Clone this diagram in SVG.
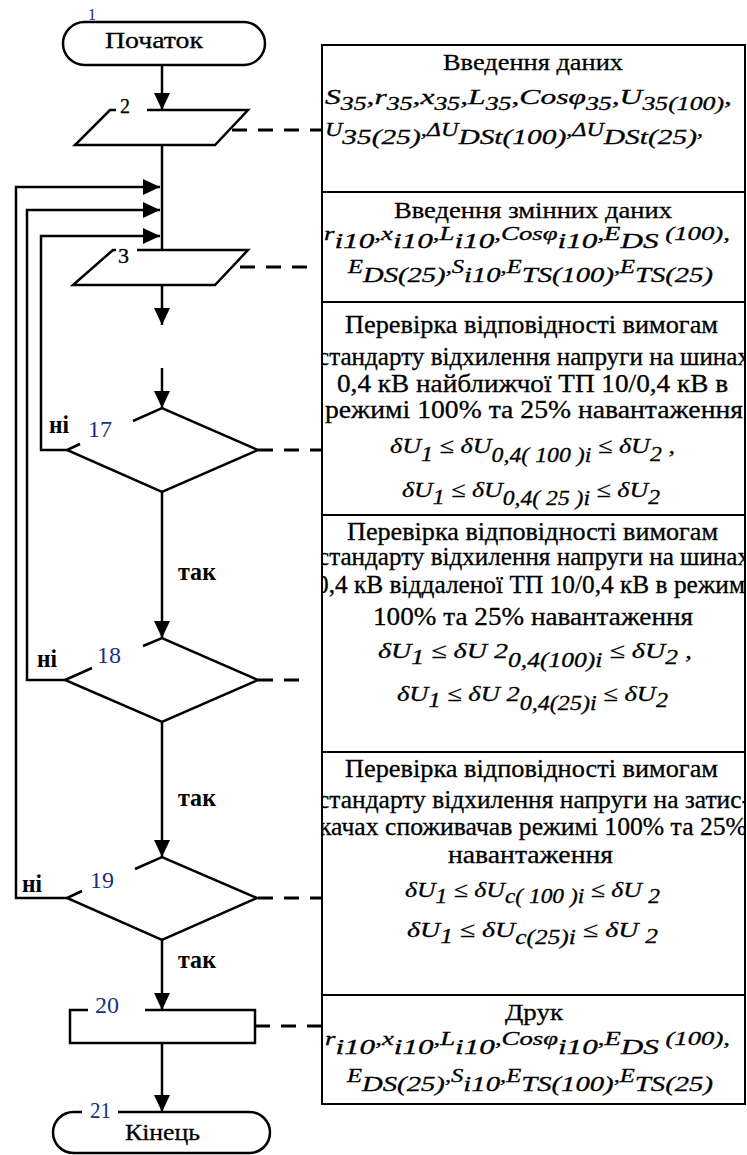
<svg xmlns="http://www.w3.org/2000/svg" width="747" height="1155" viewBox="0 0 747 1155">
<defs>
<style>
.sh{fill:none;stroke:#000;stroke-width:2.5;stroke-linejoin:miter}
.ln{fill:none;stroke:#000;stroke-width:2.5}
.bx{fill:#fff;stroke:#000;stroke-width:2}
.ds{fill:none;stroke:#000;stroke-width:3;stroke-dasharray:15 11}
.t{font-family:"Liberation Serif","Times New Roman",serif;fill:#000;stroke:#000;stroke-width:0.3}
.num{font-family:"Liberation Serif","Times New Roman",serif;fill:#1a2f80}
.lb{font-family:"Liberation Serif","Times New Roman",serif;font-weight:bold;font-size:26px;fill:#000}
.f{font-family:"Liberation Serif","Times New Roman",serif;font-style:italic;fill:#000;stroke:#000;stroke-width:0.3}
</style>
<marker id="ah" markerUnits="userSpaceOnUse" markerWidth="18" markerHeight="18" refX="17" refY="8" orient="auto"><path d="M0,0 L17,8 L0,16 z" fill="#000"/></marker>
<clipPath id="col"><rect x="323" y="44" width="421" height="1062"/></clipPath>
</defs>
<rect x="0" y="0" width="747" height="1155" fill="#fff"/>

<g id="connectors">
<line class="ln" x1="162" y1="65" x2="162" y2="110" marker-end="url(#ah)"/>
<line class="ln" x1="162" y1="145" x2="162" y2="250"/>
<line class="ln" x1="162" y1="285" x2="162" y2="325" marker-end="url(#ah)"/>
<line class="ln" x1="162" y1="368" x2="162" y2="408" marker-end="url(#ah)"/>
<line class="ln" x1="162" y1="492" x2="162" y2="638" marker-end="url(#ah)"/>
<line class="ln" x1="162" y1="722" x2="162" y2="857" marker-end="url(#ah)"/>
<line class="ln" x1="162" y1="940" x2="162" y2="1010" marker-end="url(#ah)"/>
<line class="ln" x1="162" y1="1043" x2="162" y2="1112" marker-end="url(#ah)"/>
<polyline class="ln" points="67,450 41,450 41,236 160,236" marker-end="url(#ah)"/>
<polyline class="ln" points="65,680 27,680 27,210 160,210" marker-end="url(#ah)"/>
<polyline class="ln" points="67,898 16,898 16,187 160,187" marker-end="url(#ah)"/>
<line class="ds" x1="232" y1="130" x2="322" y2="130"/>
<line class="ds" x1="240" y1="267" x2="312" y2="267"/>
<line class="ds" x1="258" y1="450" x2="322" y2="450"/>
<line class="ds" x1="258" y1="680" x2="310" y2="680"/>
<line class="ds" x1="258" y1="898" x2="322" y2="898"/>
<line class="ds" x1="255" y1="1026" x2="322" y2="1026"/>
<text class="lb" x="49" y="433" textLength="20" lengthAdjust="spacingAndGlyphs">ні</text>
<text class="lb" x="37" y="667" textLength="20" lengthAdjust="spacingAndGlyphs">ні</text>
<text class="lb" x="22" y="892" textLength="20" lengthAdjust="spacingAndGlyphs">ні</text>
<text class="lb" x="178" y="580" textLength="38" lengthAdjust="spacingAndGlyphs">так</text>
<text class="lb" x="178" y="806" textLength="38" lengthAdjust="spacingAndGlyphs">так</text>
<text class="lb" x="178" y="968" textLength="38" lengthAdjust="spacingAndGlyphs">так</text>
</g>

<g id="n1">
<rect class="sh" x="63" y="22" width="202" height="43" rx="21.5"/>
<text class="t" x="105" y="48" font-size="23" textLength="98" lengthAdjust="spacingAndGlyphs">Початок</text>
<text class="num" x="88" y="20" font-size="16">1</text>
</g>
<g id="n2">
<path class="sh" d="M147,110 L248,110 L215,145 L75,145 L110,110 L116,110"/>
<text class="t" x="120" y="113" font-size="20">2</text>
</g>
<g id="n3">
<path class="sh" d="M137,250 L248,250 L215,285 L73,285 L113,250 L116,250"/>
<text class="t" x="118" y="263" font-size="22">3</text>
</g>
<g id="n17">
<path class="sh" d="M133,421 L162,408 L258,450 L162,492 L67,450 L80,444"/>
<text class="num" x="88" y="437" font-size="24">17</text>
</g>
<g id="n18">
<path class="sh" d="M143,646 L162,638 L258,680 L162,722 L65,680 L92,668"/>
<text class="num" x="97" y="663" font-size="24">18</text>
</g>
<g id="n19">
<path class="sh" d="M135,869 L162,857 L257,898 L162,940 L67,898 L82,891"/>
<text class="num" x="90" y="888" font-size="24">19</text>
</g>
<g id="n20">
<path class="sh" d="M145,1010 L255,1010 L255,1043 L70,1043 L70,1010 L88,1010"/>
<text class="num" x="95" y="1013" font-size="24">20</text>
</g>
<g id="n21">
<path class="sh" d="M118,1112 L249.5,1112 A20.5,20.5 0 0 1 249.5,1153 L73.5,1153 A20.5,20.5 0 0 1 73.5,1112 L82,1112"/>
<text class="t" x="125" y="1140" font-size="24" textLength="75" lengthAdjust="spacingAndGlyphs">Кінець</text>
<text class="num" x="90" y="1118" font-size="24" textLength="21" lengthAdjust="spacingAndGlyphs">21</text>
</g>

<g id="c2">
<rect class="bx" x="322" y="45" width="423" height="147"/>
<g clip-path="url(#col)">
<text class="t" x="443" y="70" font-size="24" textLength="180" lengthAdjust="spacingAndGlyphs">Введення даних</text>
<text class="f" x="325" y="104" font-size="22" textLength="407" lengthAdjust="spacingAndGlyphs">S<tspan font-size="18" dy="6">35</tspan><tspan dy="-6">,r</tspan><tspan font-size="18" dy="6">35</tspan><tspan dy="-6">,x</tspan><tspan font-size="18" dy="6">35</tspan><tspan dy="-6">,L</tspan><tspan font-size="18" dy="6">35</tspan><tspan dy="-6">,Cosφ</tspan><tspan font-size="18" dy="6">35</tspan><tspan dy="-6">,U</tspan><tspan font-size="18" dy="6">35(100)</tspan><tspan dy="-6">,</tspan></text>
<text class="f" x="325" y="136" font-size="18" textLength="378" lengthAdjust="spacingAndGlyphs">U<tspan font-size="22" dy="8">35(25)</tspan><tspan dy="-8">,ΔU</tspan><tspan font-size="22" dy="8">DSt(100)</tspan><tspan dy="-8">,ΔU</tspan><tspan font-size="22" dy="8">DSt(25)</tspan><tspan dy="-8">,</tspan></text>
</g>
</g>
<g id="c3">
<rect class="bx" x="322" y="192" width="423" height="110"/>
<g clip-path="url(#col)">
<text class="t" x="394" y="218" font-size="24" textLength="278" lengthAdjust="spacingAndGlyphs">Введення змінних даних</text>
<text class="f" x="324" y="240" font-size="18" textLength="406" lengthAdjust="spacingAndGlyphs">r<tspan font-size="21" dy="8">i10</tspan><tspan dy="-8">,x</tspan><tspan font-size="21" dy="8">i10</tspan><tspan dy="-8">,L</tspan><tspan font-size="21" dy="8">i10</tspan><tspan dy="-8">,Cosφ</tspan><tspan font-size="21" dy="8">i10</tspan><tspan dy="-8">,E</tspan><tspan font-size="21" dy="8">DS</tspan><tspan dy="-8"> (100),</tspan></text>
<text class="f" x="348" y="273" font-size="18" textLength="365" lengthAdjust="spacingAndGlyphs">E<tspan font-size="21" dy="9">DS(25)</tspan><tspan dy="-9">,S</tspan><tspan font-size="21" dy="9">i10</tspan><tspan dy="-9">,E</tspan><tspan font-size="21" dy="9">TS(100)</tspan><tspan dy="-9">,E</tspan><tspan font-size="21" dy="9">TS(25)</tspan></text>
</g>
</g>
<g id="c17">
<rect class="bx" x="322" y="302" width="423" height="213"/>
<g clip-path="url(#col)">
<text class="t" x="345" y="333" font-size="25" textLength="373" lengthAdjust="spacingAndGlyphs">Перевірка відповідності вимогам</text>
<text class="t" x="318" y="365" font-size="25" textLength="432" lengthAdjust="spacingAndGlyphs">стандарту відхилення напруги на шинах</text>
<text class="t" x="337" y="392" font-size="25" textLength="391" lengthAdjust="spacingAndGlyphs">0,4 кВ найближчої ТП 10/0,4 кВ  в</text>
<text class="t" x="325" y="418" font-size="25" textLength="418" lengthAdjust="spacingAndGlyphs">режимі 100% та 25% навантаження</text>
<text class="f" x="390" y="453" font-size="22" textLength="285" lengthAdjust="spacingAndGlyphs">δU<tspan font-size="20" dy="8">1</tspan><tspan dy="-8"> ≤ δU</tspan><tspan font-size="20" dy="9">0,4( 100 )i</tspan><tspan dy="-9"> ≤ δU</tspan><tspan font-size="20" dy="8">2</tspan><tspan dy="-8"> ,</tspan></text>
<text class="f" x="402" y="497" font-size="22" textLength="258" lengthAdjust="spacingAndGlyphs">δU<tspan font-size="20" dy="7">1</tspan><tspan dy="-7"> ≤ δU</tspan><tspan font-size="20" dy="8">0,4( 25 )i</tspan><tspan dy="-8"> ≤ δU</tspan><tspan font-size="20" dy="7">2</tspan></text>
</g>
</g>
<g id="c18">
<rect class="bx" x="322" y="515" width="423" height="237"/>
<g clip-path="url(#col)">
<text class="t" x="347" y="540" font-size="25" textLength="371" lengthAdjust="spacingAndGlyphs">Перевірка відповідності вимогам</text>
<text class="t" x="318" y="565" font-size="25" textLength="432" lengthAdjust="spacingAndGlyphs">стандарту відхилення напруги на шинах</text>
<text class="t" x="316" y="593" font-size="25" textLength="436" lengthAdjust="spacingAndGlyphs">0,4 кВ віддаленої ТП 10/0,4 кВ  в режимі</text>
<text class="t" x="373" y="625" font-size="25" textLength="320" lengthAdjust="spacingAndGlyphs">100% та 25% навантаження</text>
<text class="f" x="378" y="658" font-size="22" textLength="314" lengthAdjust="spacingAndGlyphs">δU<tspan font-size="20" dy="6">1</tspan><tspan dy="-6"> ≤ δU 2</tspan><tspan font-size="20" dy="9">0,4(100)i</tspan><tspan dy="-9"> ≤ δU</tspan><tspan font-size="20" dy="6">2</tspan><tspan dy="-6"> ,</tspan></text>
<text class="f" x="397" y="701" font-size="22" textLength="271" lengthAdjust="spacingAndGlyphs">δU<tspan font-size="20" dy="6">1</tspan><tspan dy="-6"> ≤ δU 2</tspan><tspan font-size="20" dy="9">0,4(25)i</tspan><tspan dy="-9"> ≤ δU</tspan><tspan font-size="20" dy="6">2</tspan></text>
</g>
</g>
<g id="c19">
<rect class="bx" x="322" y="752" width="423" height="243"/>
<g clip-path="url(#col)">
<text class="t" x="345" y="777" font-size="25" textLength="373" lengthAdjust="spacingAndGlyphs">Перевірка  відповідності вимогам</text>
<text class="t" x="318" y="808" font-size="25" textLength="432" lengthAdjust="spacingAndGlyphs">стандарту відхилення напруги на затис-</text>
<text class="t" x="319" y="835" font-size="25" textLength="428" lengthAdjust="spacingAndGlyphs">качах споживачав режимі 100% та 25%</text>
<text class="t" x="448" y="863" font-size="25" textLength="165" lengthAdjust="spacingAndGlyphs">навантаження</text>
<text class="f" x="405" y="897" font-size="22" textLength="255" lengthAdjust="spacingAndGlyphs">δU<tspan font-size="20" dy="6">1</tspan><tspan dy="-6"> ≤ δU</tspan><tspan font-size="20" dy="6">c( 100 )i</tspan><tspan dy="-6"> ≤ δU </tspan><tspan font-size="20" dy="6">2</tspan></text>
<text class="f" x="407" y="937" font-size="22" textLength="251" lengthAdjust="spacingAndGlyphs">δU<tspan font-size="20" dy="6">1</tspan><tspan dy="-6"> ≤ δU</tspan><tspan font-size="20" dy="7">c(25)i</tspan><tspan dy="-7"> ≤ δU </tspan><tspan font-size="20" dy="6">2</tspan></text>
</g>
</g>
<g id="c20">
<rect class="bx" x="322" y="995" width="423" height="109"/>
<g clip-path="url(#col)">
<text class="t" x="505" y="1020" font-size="24" textLength="58" lengthAdjust="spacingAndGlyphs">Друк</text>
<text class="f" x="325" y="1045" font-size="18" textLength="405" lengthAdjust="spacingAndGlyphs">r<tspan font-size="21" dy="9">i10</tspan><tspan dy="-9">,x</tspan><tspan font-size="21" dy="9">i10</tspan><tspan dy="-9">,L</tspan><tspan font-size="21" dy="9">i10</tspan><tspan dy="-9">,Cosφ</tspan><tspan font-size="21" dy="9">i10</tspan><tspan dy="-9">,E</tspan><tspan font-size="21" dy="9">DS</tspan><tspan dy="-9"> (100),</tspan></text>
<text class="f" x="347" y="1082" font-size="18" textLength="366" lengthAdjust="spacingAndGlyphs">E<tspan font-size="21" dy="9">DS(25)</tspan><tspan dy="-9">,S</tspan><tspan font-size="21" dy="9">i10</tspan><tspan dy="-9">,E</tspan><tspan font-size="21" dy="9">TS(100)</tspan><tspan dy="-9">,E</tspan><tspan font-size="21" dy="9">TS(25)</tspan></text>
</g>
</g>
</svg>
